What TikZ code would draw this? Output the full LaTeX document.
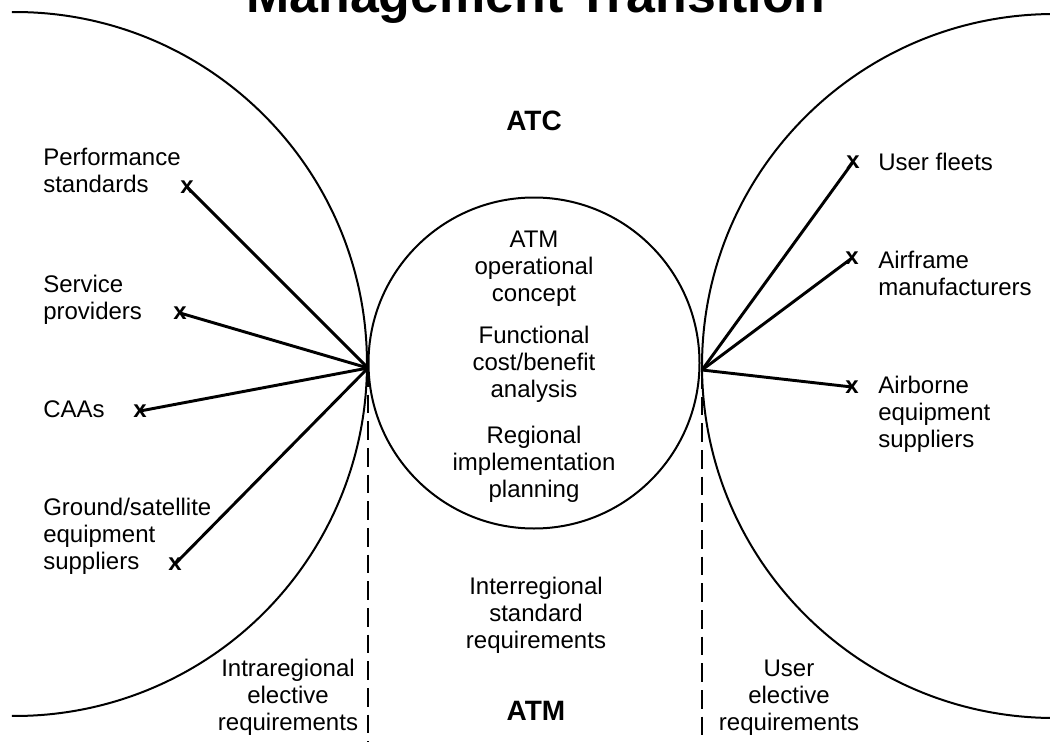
\documentclass[tikz,border=0pt]{standalone}
\usepackage{fontspec}
\setmainfont{Liberation Sans}
% stacked multi-line labels whose baseline is the first line
\newcommand\stackL[1]{\begin{tabular}[t]{@{}l@{}}#1\end{tabular}}
\newcommand\stackC[1]{\begin{tabular}[t]{@{}c@{}}#1\end{tabular}}
\begin{document}
\begin{tikzpicture}[x=0.75pt,y=-0.75pt]
\tikzset{
  txt/.style={font=\fontsize{18}{20.25}\selectfont, inner sep=0pt},
  head/.style={font=\fontsize{21}{24}\selectfont\bfseries, inner sep=0pt, anchor=base},
  titletxt/.style={font=\fontsize{38.9}{42}\selectfont\bfseries, inner sep=0pt, anchor=base},
  xmark/.style={font=\fontsize{18}{20}\selectfont\bfseries, inner sep=0pt},
  link/.style={line width=2.2pt},
  bound/.style={line width=1.5pt},
  split/.style={line width=1.4pt, dash pattern=on 14pt off 6pt},
}
\path[use as bounding box, clip] (0,0) rectangle (1050,742);

% title
\node[titletxt] (title) at (536,13) {Management Transition};

% big bounding arcs and central circle
\draw[bound] ([shift={(-90.49:352)}]15,364) arc[start angle=-90.49, end angle=90.49, radius=352];
\draw[bound] ([shift={(269.35:352)}]1054,366) arc[start angle=269.35, end angle=90.65, radius=352];
\draw[bound] (534,363) circle[radius=165.5];

% hubs
\coordinate (hubL) at (368,368);
\coordinate (hubR) at (702,370);
\coordinate (endL) at (368,742);
\coordinate (endR) at (702,742);

% vertical dashed separators
\draw[split] (hubL) -- (endL);
\draw[split] (hubR) -- (endR);

% stakeholder points
\coordinate (pPerf) at (187,187);
\coordinate (pServ) at (180,313);
\coordinate (pCAA)  at (140,411);
\coordinate (pGrnd) at (175,564);
\coordinate (pUser) at (853,162);
\coordinate (pAirf) at (852,258);
\coordinate (pAirb) at (852,387);

\foreach \p in {pPerf,pServ,pCAA,pGrnd} \draw[link] (hubL) -- (\p);
\foreach \p in {pUser,pAirf,pAirb} \draw[link] (hubR) -- (\p);

\node[xmark] (mPerf) at (pPerf) {x};
\node[xmark] (mServ) at (pServ) {x};
\node[xmark] (mCAA)  at (pCAA)  {x};
\node[xmark] (mGrnd) at (pGrnd) {x};
\node[xmark] (mUser) at (pUser) {x};
\node[xmark] (mAirf) at (pAirf) {x};
\node[xmark] (mAirb) at (pAirb) {x};

% left labels
\node[txt, anchor=base west] (lPerf) at (43,166) {\stackL{Performance\\standards}};
\node[txt, anchor=base west] (lServ) at (43,292) {\stackL{Service\\providers}};
\node[txt, anchor=base west] (lCAA)  at (43,417) {CAAs};
\node[txt, anchor=base west] (lGrnd) at (43,515) {\stackL{Ground/satellite\\equipment\\suppliers}};

% right labels
\node[txt, anchor=base west] (lUser) at (878,170) {User fleets};
\node[txt, anchor=base west] (lAirf) at (878,268) {\stackL{Airframe\\manufacturers}};
\node[txt, anchor=base west] (lAirb) at (878,393) {\stackL{Airborne\\equipment\\suppliers}};

% headings
\node[head] (atc) at (534,130) {ATC};
\node[head] (atm) at (536,720) {ATM};

% circle contents
\node[txt, anchor=base] (cOps) at (534,247) {\stackC{ATM\\operational\\concept}};
\node[txt, anchor=base] (cFun) at (534,343) {\stackC{Functional\\cost/benefit\\analysis}};
\node[txt, anchor=base] (cReg) at (534,443) {\stackC{Regional\\implementation\\planning}};

% lower band
\node[txt, anchor=base] (cInter) at (536,594) {\stackC{Interregional\\standard\\requirements}};
\node[txt, anchor=base] (cIntra) at (288,676) {\stackC{Intraregional\\elective\\requirements}};
\node[txt, anchor=base] (cUserE) at (789,676) {\stackC{User\\elective\\requirements}};
\end{tikzpicture}
\end{document}
